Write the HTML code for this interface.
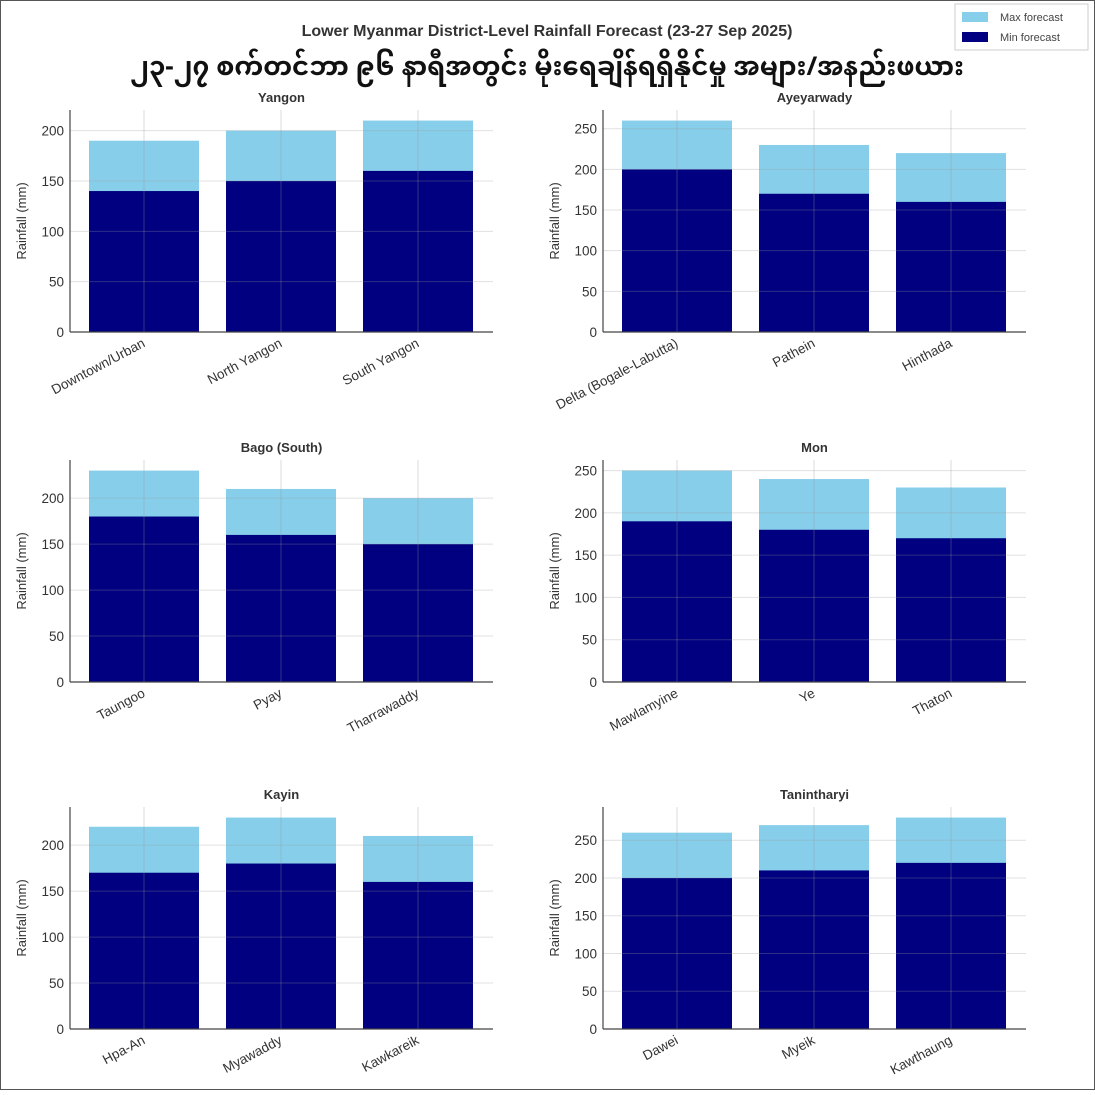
<!DOCTYPE html>
<html><head><meta charset="utf-8"><style>
html,body{margin:0;padding:0;background:#fff}
svg text{font-family:"Liberation Sans","DejaVu Sans",sans-serif}
</style></head><body>
<svg id="s" width="1095" height="1090" viewBox="0 0 1095 1090" xmlns="http://www.w3.org/2000/svg">
<rect x="0.5" y="0.5" width="1094" height="1089" fill="#fff" stroke="#555" stroke-width="1"/>
<text x="547" y="36" text-anchor="middle" font-size="16" font-weight="bold" fill="#333">Lower Myanmar District-Level Rainfall Forecast (23-27 Sep 2025)</text>
<text x="547" y="75" text-anchor="middle" font-size="26" font-weight="bold" fill="#111" style="font-family:'Noto Sans Myanmar','Padauk','Myanmar Text',sans-serif">၂၃-၂၇ စက်တင်ဘာ ၉၆ နာရီအတွင်း မိုးရေချိန်ရရှိနိုင်မှု အများ/အနည်းဖယား</text>
<rect x="955" y="4" width="133" height="46" fill="#fff" stroke="#ccc"/>
<rect x="962" y="12" width="26" height="10" fill="#87CEEB"/>
<text x="1000" y="21" font-size="11" fill="#444">Max forecast</text>
<rect x="962" y="32" width="26" height="10" fill="#000080"/>
<text x="1000" y="41" font-size="11" fill="#444">Min forecast</text>
<g id="g"></g>
</svg>
<script>
var P=[
["Yangon",70,332,["Downtown/Urban","North Yangon","South Yangon"],[140,150,160],[190,200,210]],
["Ayeyarwady",603,332,["Delta (Bogale-Labutta)","Pathein","Hinthada"],[200,170,160],[260,230,220]],
["Bago (South)",70,682,["Taungoo","Pyay","Tharrawaddy"],[180,160,150],[230,210,200]],
["Mon",603,682,["Mawlamyine","Ye","Thaton"],[190,180,170],[250,240,230]],
["Kayin",70,1029,["Hpa-An","Myawaddy","Kawkareik"],[170,180,160],[220,230,210]],
["Tanintharyi",603,1029,["Dawei","Myeik","Kawthaung"],[200,210,220],[260,270,280]]];
var h='';
P.forEach(function(p){
 var L=p[1],B=p[2],H=222,W=423,mx=Math.max.apply(null,p[5])*1.05,sc=H/mx,T=B-H;
 var off=[19,156,293];
 for(var i=0;i<3;i++){var x=L+off[i];
  h+='<rect x="'+x+'" y="'+(B-p[5][i]*sc)+'" width="110" height="'+(p[5][i]*sc)+'" fill="#87CEEB"/>';
  h+='<rect x="'+x+'" y="'+(B-p[4][i]*sc)+'" width="110" height="'+(p[4][i]*sc)+'" fill="#000080"/>';
  var cx=x+55;
  h+='<line x1="'+cx+'" y1="'+T+'" x2="'+cx+'" y2="'+B+'" stroke="#999" stroke-opacity="0.35"/>';
  h+='<text transform="translate('+(cx+2)+','+(B+14)+') rotate(-28)" text-anchor="end" font-size="13.5" fill="#333">'+p[3][i]+'</text>';
 }
 for(var v=0;v<=mx;v+=50){var y=B-v*sc;
  h+='<line x1="'+L+'" y1="'+y+'" x2="'+(L+W)+'" y2="'+y+'" stroke="#999" stroke-opacity="0.3"/>';
  h+='<text x="'+(L-6)+'" y="'+(y+5)+'" text-anchor="end" font-size="13.5" fill="#333">'+v+'</text>';}
 h+='<line x1="'+L+'" y1="'+T+'" x2="'+L+'" y2="'+B+'" stroke="#444" stroke-width="1.2"/>';
 h+='<line x1="'+L+'" y1="'+B+'" x2="'+(L+W)+'" y2="'+B+'" stroke="#444" stroke-width="1.2"/>';
 h+='<text x="'+(L+W/2)+'" y="'+(T-8)+'" text-anchor="middle" font-size="13" font-weight="bold" fill="#333">'+p[0]+'</text>';
 h+='<text transform="translate('+(L-44)+','+(B-H/2)+') rotate(-90)" text-anchor="middle" font-size="13" fill="#333">Rainfall (mm)</text>';
});
document.getElementById('g').innerHTML=h;
</script>
</body></html>
